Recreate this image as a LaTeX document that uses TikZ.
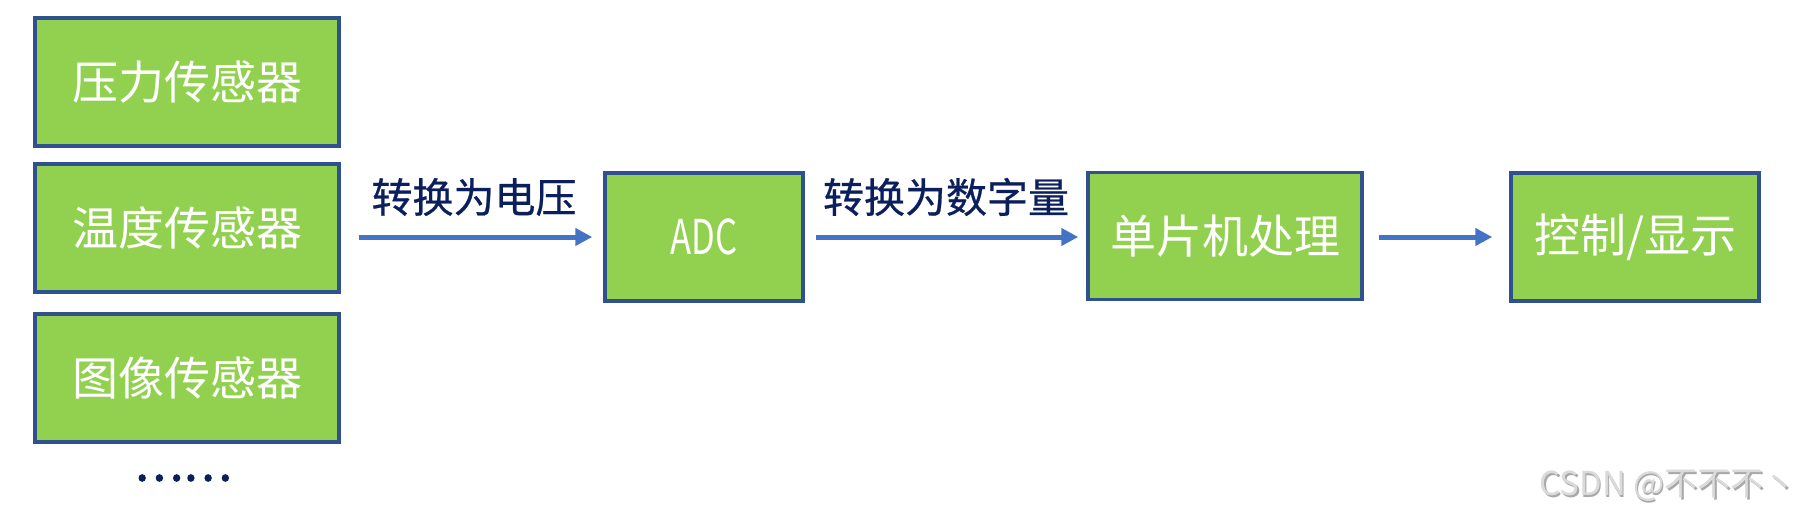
\documentclass[tikz,border=0pt]{standalone}
\usepackage{fontspec}
\newfontfamily\cjk{Noto Sans CJK SC}
\newfontfamily\cjkheavy[FakeBold=2.5]{Noto Sans CJK SC}
\newfontfamily\cjkmid[FakeBold=0.6]{Noto Sans CJK SC}
\usetikzlibrary{arrows.meta}
\definecolor{boxgreen}{HTML}{92D050}
\definecolor{boxline}{HTML}{2F528F}
\definecolor{arrowblue}{HTML}{4472C4}
\definecolor{labelnavy}{HTML}{0B1F5C}
\definecolor{wmlight}{HTML}{DADADA}
\definecolor{wmdark}{HTML}{A8A8A8}
\begin{document}
\begin{tikzpicture}[x=1pt,y=-1pt,
  greenbox/.style={draw=boxline, line width=3.5pt, fill=boxgreen, inner sep=0pt,
    minimum height=128pt, text=white, font=\cjk\fontsize{46}{50}\selectfont},
  flowarrow/.style={draw=arrowblue, line width=5pt, -{Triangle[length=17pt,width=17pt]}},
  flowlabel/.style={text=labelnavy, inner sep=0pt, font=\cjkmid\fontsize{41}{45}\selectfont},
  wmtext/.style={inner sep=0pt, font=\cjk\fontsize{33}{37}\selectfont}]
\useasboundingbox (0,0) rectangle (1815,517);
\fill[white] (0,0) rectangle (1815,517);

\node[greenbox, minimum width=304pt] (s1) at (187,82) {压力传感器};
\node[greenbox, minimum width=304pt] (s2) at (187,228) {温度传感器};
\node[greenbox, minimum width=304pt] (s3) at (187,378) {图像传感器};
\node[text=labelnavy, inner sep=0pt, font=\cjkheavy\fontsize{46}{50}\selectfont] (dots) at (183,478) {……};

\node[greenbox, minimum width=198pt] (adc) at (704,237) {\fontsize{48}{52}\selectfont\scalebox{0.72}[1]{ADC}};
\node[greenbox, minimum width=274pt, minimum height=127pt] (mcu) at (1225,236) {单片机处理};
\node[greenbox, minimum width=248pt] (out) at (1635,237) {控制/显示};

\draw[flowarrow, shorten <=18pt, shorten >=11pt] (adc.west -| s2.east) -- (adc.west);
\draw[flowarrow, shorten <=11pt, shorten >=8pt] (adc.east) -- (mcu.west |- adc.east);
\draw[flowarrow, shorten <=15pt, shorten >=17pt] (mcu.east |- out.west) -- (out.west);

\node[flowlabel] (l1) at (474,197) {转换为电压};
\node[flowlabel] (l2) at (946,197) {转换为数字量};

\node[wmtext, text=wmdark] (wm0) at (1669.5,487.5) {CSDN @不不不丶};
\node[wmtext, text=wmlight] (wm) at (1668,486) {CSDN @不不不丶};
\end{tikzpicture}
\end{document}
